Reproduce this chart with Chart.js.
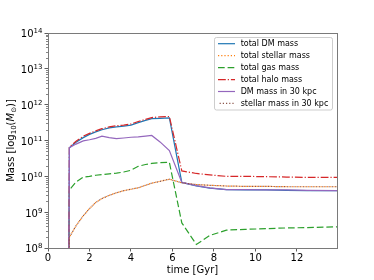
<!DOCTYPE html>
<html><head><meta charset="utf-8">
<script src="https://cdn.jsdelivr.net/npm/chart.js@4/dist/chart.umd.min.js"></script>
<style>html,body{margin:0;padding:0;background:#fff}#wrap{width:374px;height:280px}</style>
</head><body>
<div id="wrap"><canvas id="c"></canvas></div>
<script>
// snapshot times [Gyr]
const times = [1.0, 1.03, 1.35, 1.7, 2.0, 2.3, 2.6, 2.95, 3.3, 3.65, 4.0, 4.35, 4.7, 5.0, 5.4, 5.85, 6.45, 7.15, 7.8, 8.6, 9.5, 10.5, 11.5, 12.5, 13.93];
// log10 masses
const dmTotalLog   = [7, 10.80, 10.95, 11.08, 11.17, 11.24, 11.30, 11.35, 11.38, 11.40, 11.43, 11.50, 11.56, 11.61, 11.62, 11.63, 9.83, 9.73, 9.67, 9.63, 9.62, 9.62, 9.61, 9.60, 9.60];
const starTotalLog = [7, 8.30, 8.62, 8.90, 9.10, 9.27, 9.38, 9.47, 9.54, 9.60, 9.64, 9.68, 9.75, 9.81, 9.86, 9.92, 9.82, 9.77, 9.75, 9.73, 9.72, 9.72, 9.71, 9.71, 9.71];
const gasTotalLog  = [7, 9.62, 9.84, 9.98, 10.00, 10.03, 10.05, 10.07, 10.09, 10.12, 10.17, 10.28, 10.33, 10.36, 10.38, 10.39, 8.70, 8.10, 8.35, 8.50, 8.52, 8.54, 8.56, 8.57, 8.59];
const haloTotalLog = [7, 10.82, 10.98, 11.12, 11.20, 11.27, 11.33, 11.38, 11.41, 11.43, 11.46, 11.53, 11.59, 11.64, 11.66, 11.67, 10.15, 10.08, 10.04, 10.00, 10.00, 9.99, 9.98, 9.97, 9.97];
const dm30Log      = [7, 10.80, 10.90, 10.99, 11.02, 11.06, 11.12, 11.08, 11.05, 11.07, 11.09, 11.10, 11.12, 11.14, 10.96, 10.72, 9.83, 9.74, 9.68, 9.63, 9.63, 9.62, 9.62, 9.61, 9.60];
const star30Log    = [7, 8.30, 8.62, 8.90, 9.10, 9.27, 9.38, 9.47, 9.54, 9.60, 9.64, 9.68, 9.75, 9.81, 9.86, 9.92, 9.82, 9.77, 9.75, 9.73, 9.72, 9.72, 9.71, 9.71, 9.71];
const seriesNames = ['total DM mass', 'total stellar mass', 'total gas mass', 'total halo mass', 'DM mass in 30 kpc', 'stellar mass in 30 kpc'];
const yTickExps = [8, 9, 10, 11, 12, 13, 14];
const yTickBase = '10';
const xTickValues = [0, 2, 4, 6, 8, 10, 12];
const xMax = 13.93;

const FONT = 'DejaVu Sans';
const seriesLogs = [dmTotalLog, starTotalLog, gasTotalLog, haloTotalLog, dm30Log, star30Log];
const colors = ['#1f77b4', '#ff7f0e', '#2ca02c', '#d62728', '#9467bd', '#8c564b'];
const dashes = [[], [1.2, 2.0], [6.7, 2.9], [7.8, 1.95, 1.2, 1.95], [], [1.2, 2.0]];
const dashOffsets = [0, 0, 0, 0, 0, 1.6];

const datasets = seriesLogs.map((arr, i) => ({
  label: seriesNames[i],
  data: times.map((t, j) => ({x: t, y: Math.pow(10, arr[j])})),
  borderColor: colors[i],
  backgroundColor: colors[i],
  borderWidth: 1.2,
  borderDash: dashes[i],
  borderDashOffset: dashOffsets[i],
  borderCapStyle: 'butt',
  pointRadius: 0,
  pointHoverRadius: 0,
  fill: false,
  tension: 0,
  order: seriesLogs.length - i
}));

const framePlugin = {
  id: 'frame',
  afterDraw(chart) {
    const ctx = chart.ctx, a = chart.chartArea, ys = chart.scales.y;
    ctx.save();
    // minor ticks on log axis
    ctx.strokeStyle = '#333'; ctx.lineWidth = 0.6;
    for (let e = 8; e < 14; e++) {
      for (let k = 2; k <= 9; k++) {
        const y = Math.round(ys.getPixelForValue(k * Math.pow(10, e))) + 0.5;
        ctx.beginPath(); ctx.moveTo(a.left - 2, y); ctx.lineTo(a.left, y); ctx.stroke();
      }
    }
    // y tick labels with superscript exponents
    ctx.fillStyle = '#000';
    ctx.textBaseline = 'alphabetic'; ctx.textAlign = 'left';
    yTickExps.forEach(e => {
      const ty = ys.getPixelForValue(Math.pow(10, e));
      ctx.font = '7px "' + FONT + '"';
      const ew = ctx.measureText(String(e)).width;
      ctx.font = '10px "' + FONT + '"';
      const bw = ctx.measureText(yTickBase).width;
      const right = a.left - 5.6;
      ctx.fillText(yTickBase, right - ew - bw, ty + 4.4);
      ctx.font = '7px "' + FONT + '"';
      ctx.fillText(String(e), right - ew, ty + 0.4);
    });
    // spines
    ctx.strokeStyle = '#7a7a7a'; ctx.lineWidth = 1;
    ctx.strokeRect(Math.round(a.left) + 0.5, Math.round(a.top) + 0.5, Math.round(a.right - a.left), Math.round(a.bottom - a.top));
    // legend
    const x0 = a.right - 122.5, y0 = a.top + 4.5, w = 118, h = 72.5;
    ctx.fillStyle = 'rgba(255,255,255,0.85)';
    ctx.strokeStyle = 'rgba(200,200,200,0.9)';
    ctx.lineWidth = 1;
    ctx.beginPath();
    if (ctx.roundRect) ctx.roundRect(x0, y0, w, h, 2); else ctx.rect(x0, y0, w, h);
    ctx.fill(); ctx.stroke();
    ctx.font = '8px "' + FONT + '"';
    ctx.textBaseline = 'middle';
    ctx.textAlign = 'left';
    seriesNames.forEach((name, i) => {
      const y = y0 + 6.2 + i * 11.95;
      ctx.save();
      ctx.strokeStyle = colors[i]; ctx.lineWidth = 1.2;
      ctx.setLineDash(dashes[i]); ctx.lineDashOffset = dashOffsets[i];
      ctx.beginPath(); ctx.moveTo(x0 + 3.5, y); ctx.lineTo(x0 + 20.5, y); ctx.stroke();
      ctx.restore();
      ctx.fillStyle = '#000';
      ctx.fillText(name, x0 + 26.2, y + 0.5);
    });
    // x title
    ctx.fillStyle = '#000';
    ctx.font = '10px "' + FONT + '"';
    ctx.textAlign = 'center'; ctx.textBaseline = 'middle';
    ctx.fillText('time [Gyr]', (a.left + a.right) / 2, 270.3);
    // y title (rotated, with subscripts)
    const parts = [
      {t: 'Mass [log', f: '10px "' + FONT + '"', dy: 0},
      {t: '10', f: '7px "' + FONT + '"', dy: 2.2},
      {t: '(', f: '10px "' + FONT + '"', dy: 0},
      {t: 'M', f: 'italic 10px "' + FONT + '"', dy: 0},
      {t: '\u2299', f: '7px "' + FONT + '"', dy: 2.2},
      {t: ')]', f: '10px "' + FONT + '"', dy: 0}
    ];
    let total = 0;
    parts.forEach(p => { ctx.font = p.f; p.w = ctx.measureText(p.t).width; total += p.w; });
    ctx.translate(10.5, (a.top + a.bottom) / 2);
    ctx.rotate(-Math.PI / 2);
    ctx.textAlign = 'left'; ctx.textBaseline = 'alphabetic';
    let cx = -total / 2;
    parts.forEach(p => { ctx.font = p.f; ctx.fillText(p.t, cx, 3.6 + p.dy); cx += p.w; });
    ctx.restore();
  }
};

new Chart(document.getElementById('c'), {
  type: 'line',
  data: {datasets},
  options: {
    responsive: true,
    maintainAspectRatio: false,
    animation: false,
    devicePixelRatio: 1,
    layout: {padding: {left: 0, right: 37, top: 33, bottom: 0}},
    plugins: {legend: {display: false}, tooltip: {enabled: false}},
    scales: {
      x: {
        type: 'linear', min: 0, max: xMax,
        afterFit(s) { s.height = 32; },
        afterBuildTicks(s) { s.ticks = xTickValues.map(v => ({value: v})); },
        grid: {display: true, drawOnChartArea: false, drawTicks: true, tickLength: 3.5, color: '#333', lineWidth: 0.8},
        border: {display: false},
        ticks: {font: {family: FONT, size: 10}, color: '#000', padding: 0.5, maxRotation: 0, autoSkip: false}
      },
      y: {
        type: 'logarithmic', min: 1e8, max: 1e14,
        afterFit(s) { s.width = 48; },
        afterBuildTicks(s) { s.ticks = yTickExps.map(e => ({value: Math.pow(10, e)})); },
        grid: {display: true, drawOnChartArea: false, drawTicks: true, tickLength: 3.5, color: '#333', lineWidth: 0.8},
        border: {display: false},
        ticks: {font: {family: FONT, size: 10}, color: '#000', padding: 2, autoSkip: false, callback: () => ''}
      }
    }
  },
  plugins: [framePlugin]
});
</script>
</body></html>
